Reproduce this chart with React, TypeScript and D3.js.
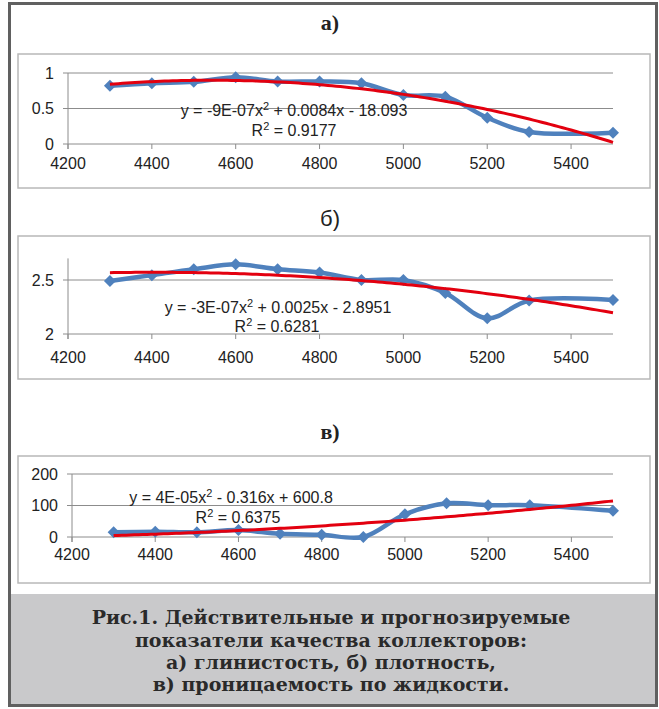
import React from 'react';
import * as d3 from 'd3';

// depth values (x), same for all three panels
const depths = [4300, 4400, 4500, 4600, 4700, 4800, 4900, 5000, 5100, 5200, 5300, 5500];
const clayValues = [0.82, 0.855, 0.875, 0.94, 0.88, 0.88, 0.855, 0.69, 0.665, 0.37, 0.17, 0.16];
const densityValues = [2.49, 2.545, 2.6, 2.645, 2.6, 2.57, 2.5, 2.5, 2.38, 2.145, 2.31, 2.315];
const permValues = [15, 17, 15, 22, 10, 7, 0, 72, 107, 101, 101, 83];

const xTicks = [4200, 4400, 4600, 4800, 5000, 5200, 5400];
const clayTicks = [0, 0.5, 1];
const densityTicks = [2, 2.5];
const permTicks = [0, 100, 200];

const titles = ['а)', 'б)', 'в)'];
const equations = [
  ['y = -9E-07x', ' + 0.0084x - 18.093'],
  ['y = -3E-07x', ' + 0.0025x - 2.8951'],
  ['y = 4E-05x', ' - 0.316x + 600.8'],
];
const rSquared = ['0.9177', '0.6281', '0.6375'];
const captionLines = [
  'Рис.1. Действительные и прогнозируемые',
  'показатели качества коллекторов:',
  'а) глинистость, б) плотность,',
  'в) проницаемость по жидкости.',
];

const BLUE = '#4f81bd';
const RED = '#e3000f';
const GRID = '#8c8c8c';
const SANS = "'Liberation Sans', Arial, sans-serif";

// least squares quadratic (Excel polynomial trendline, order 2)
function quadFit(xs: number[], ys: number[]) {
  const x0 = d3.mean(xs) as number;
  const u = xs.map((x) => (x - x0) / 100);
  const S = [0, 0, 0, 0, 0];
  const T = [0, 0, 0];
  u.forEach((v, i) => {
    for (let k = 0; k < 5; k++) S[k] += Math.pow(v, k);
    for (let k = 0; k < 3; k++) T[k] += ys[i] * Math.pow(v, k);
  });
  const A = [
    [S[0], S[1], S[2], T[0]],
    [S[1], S[2], S[3], T[1]],
    [S[2], S[3], S[4], T[2]],
  ];
  for (let c = 0; c < 3; c++) {
    for (let r = c + 1; r < 3; r++) {
      const f = A[r][c] / A[c][c];
      for (let k = c; k < 4; k++) A[r][k] -= f * A[c][k];
    }
  }
  const coef = [0, 0, 0];
  for (let r = 2; r >= 0; r--) {
    let s = A[r][3];
    for (let k = r + 1; k < 3; k++) s -= A[r][k] * coef[k];
    coef[r] = s / A[r][r];
  }
  return (x: number) => {
    const v = (x - x0) / 100;
    return coef[0] + coef[1] * v + coef[2] * v * v;
  };
}

type PanelProps = {
  values: number[];
  ticks: number[];
  yDomain: [number, number];
  box: [number, number, number, number];
  xRange: [number, number];
  yRange: [number, number];
  title: string;
  titleY: number;
  titleFont: string;
  titleWeight: string;
  eq: string[];
  r2: string;
  eqPos: [number, number];
  r2Pos: [number, number];
  labelY: number;
};

function Panel(p: PanelProps) {
  const x = d3.scaleLinear().domain([4200, 5500]).range(p.xRange);
  const y = d3.scaleLinear().domain(p.yDomain).range(p.yRange);
  const [bx0, by0, bx1, by1] = p.box;
  const pts = depths.map((d, i) => [x(d), y(p.values[i])] as [number, number]);
  const smooth = d3.line().curve(d3.curveCatmullRom.alpha(0.5))(pts) as string;
  const fit = quadFit(depths, p.values);
  const trendPts = d3.range(4300, 5501, 10).map((d) => [x(d), y(fit(d))] as [number, number]);
  const trend = d3.line()(trendPts) as string;
  const diamond = d3.symbol().type(d3.symbolSquare).size(72)() as string;
  const x0 = p.xRange[0];
  const x1 = p.xRange[1];
  const yBase = p.yRange[0];
  const yTop = p.yRange[1];
  return (
    <g>
      <text x={330} y={p.titleY} textAnchor="middle" fontFamily={p.titleFont}
        fontWeight={p.titleWeight} fontSize={22} fill="#222">{p.title}</text>
      <rect x={bx0} y={by0} width={bx1 - bx0} height={by1 - by0} fill="#fff"
        stroke="#b8b8b8" strokeWidth={1.5} />
      {p.ticks.map((t) => (
        <g key={t}>
          <line x1={x0 - 5} x2={x1} y1={y(t)} y2={y(t)} stroke={GRID} strokeWidth={1} />
          <text x={x0 - 14} y={y(t)} dy="0.35em" textAnchor="end" fontFamily={SANS}
            fontSize={16} fill="#222">{String(t)}</text>
        </g>
      ))}
      <line x1={x0} x2={x0} y1={yTop} y2={yBase + 5} stroke={GRID} strokeWidth={1} />
      {xTicks.map((t) => (
        <g key={t}>
          <line x1={x(t)} x2={x(t)} y1={yBase} y2={yBase + 5} stroke={GRID} strokeWidth={1} />
          <text x={x(t)} y={p.labelY} dy="0.35em" textAnchor="middle" fontFamily={SANS}
            fontSize={16} fill="#222">{String(t)}</text>
        </g>
      ))}
      <path d={smooth} fill="none" stroke={BLUE} strokeWidth={4.5} strokeLinejoin="round" />
      {pts.map(([px, py], i) => (
        <path key={i} d={diamond} transform={`translate(${px},${py}) rotate(45)`} fill={BLUE} />
      ))}
      <path d={trend} fill="none" stroke={RED} strokeWidth={3} />
      <text x={p.eqPos[0]} y={p.eqPos[1]} dy="0.35em" textAnchor="middle" fontFamily={SANS}
        fontSize={16} fill="#222">
        {p.eq[0]}
        <tspan dy={-6} fontSize={11}>2</tspan>
        <tspan dy={6}>{p.eq[1]}</tspan>
      </text>
      <text x={p.r2Pos[0]} y={p.r2Pos[1]} dy="0.35em" textAnchor="middle" fontFamily={SANS}
        fontSize={16} fill="#222">
        R<tspan dy={-6} fontSize={11}>2</tspan>
        <tspan dy={6}>{` = ${p.r2}`}</tspan>
      </text>
    </g>
  );
}

export default function App() {
  const serif = "'Liberation Serif', 'Times New Roman', serif";
  const captionSerif = "'DejaVu Serif', serif";
  return (
    <svg width={659} height={709} style={{ position: 'absolute', left: 0, top: 0 }}>
      <rect x={0} y={0} width={659} height={709} fill="#fff" />
      <rect x={10} y={594} width={646} height={111} fill="#c9c9cb" />
      <Panel values={clayValues} ticks={clayTicks} yDomain={[0, 1]}
        box={[18, 54, 650, 188]} xRange={[68, 613]} yRange={[144, 73]}
        title={titles[0]} titleY={30} titleFont={serif} titleWeight="bold"
        eq={equations[0]} r2={rSquared[0]} eqPos={[294, 110]} r2Pos={[294, 130]} labelY={163} />
      <Panel values={densityValues} ticks={densityTicks} yDomain={[2, 2.7]}
        box={[18, 236, 650, 379]} xRange={[68, 613]} yRange={[334, 258.4]}
        title={titles[1]} titleY={226} titleFont={SANS} titleWeight="normal"
        eq={equations[1]} r2={rSquared[1]} eqPos={[278, 307]} r2Pos={[277, 326]} labelY={357} />
      <Panel values={permValues} ticks={permTicks} yDomain={[0, 200]}
        box={[18, 456, 650, 583]} xRange={[72, 613]} yRange={[537, 474]}
        title={titles[2]} titleY={439} titleFont={serif} titleWeight="bold"
        eq={equations[2]} r2={rSquared[2]} eqPos={[231, 497]} r2Pos={[238, 517]} labelY={554} />
      {captionLines.map((line, i) => (
        <text key={i} x={331} y={[624, 647, 669, 691][i]} textAnchor="middle"
          fontFamily={captionSerif} fontWeight="bold" fontSize={19} fill="#2a2a2a">{line}</text>
      ))}
      <rect x={9.5} y={3.5} width={647} height={702} fill="none" stroke="#606060" strokeWidth={3} />
    </svg>
  );
}
